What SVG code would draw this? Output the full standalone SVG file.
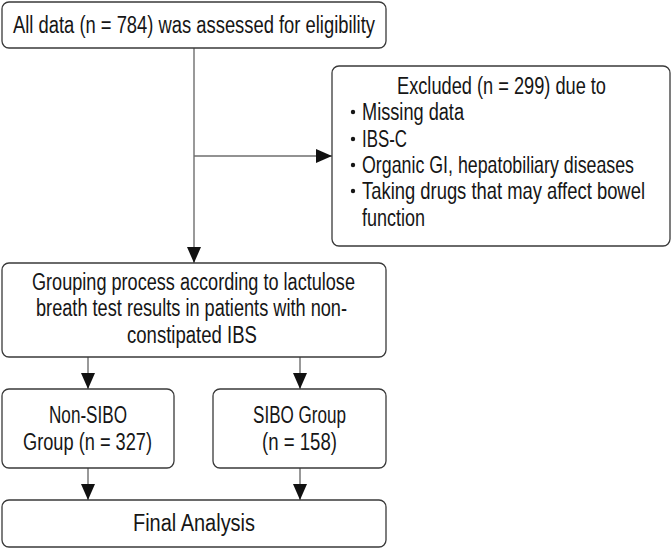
<svg xmlns="http://www.w3.org/2000/svg" width="672" height="549" viewBox="0 0 672 549">
<style>
.box{fill:#fff;stroke:#3a3a3a;stroke-width:1.3}
.t{font-family:"Liberation Sans",Arial,sans-serif;font-size:23px;fill:#161616}
.c{fill:none;stroke:#6e6e6e;stroke-width:1.4}
</style>
<defs>
<marker id="ah" markerUnits="userSpaceOnUse" markerWidth="16" markerHeight="14" refX="16" refY="7" orient="auto">
<path d="M0,0 L16,7 L0,14 Z" fill="#111"/>
</marker>
</defs>
<rect width="672" height="549" fill="#fff"/>
<g id="connectors">
<line class="c" x1="194" y1="48" x2="194" y2="263" marker-end="url(#ah)"/>
<line class="c" x1="194" y1="156" x2="332" y2="156" marker-end="url(#ah)"/>
<line class="c" x1="88" y1="357" x2="88" y2="389" marker-end="url(#ah)"/>
<line class="c" x1="300" y1="357" x2="300" y2="389" marker-end="url(#ah)"/>
<line class="c" x1="88" y1="468" x2="88" y2="500" marker-end="url(#ah)"/>
<line class="c" x1="300" y1="468" x2="300" y2="500" marker-end="url(#ah)"/>
</g>
<g id="all-data">
<rect class="box" x="2" y="2" width="384" height="46" rx="7"/>
<text class="t" x="13" y="33" textLength="362" lengthAdjust="spacingAndGlyphs">All data (n = 784) was assessed for eligibility</text>
</g>
<g id="excluded">
<rect class="box" x="332" y="66" width="338" height="180" rx="7"/>
<text class="t" x="397" y="94" textLength="209" lengthAdjust="spacingAndGlyphs">Excluded (n = 299) due to</text>
<g fill="#161616">
<circle cx="353" cy="112" r="2.2"/>
<circle cx="353" cy="139" r="2.2"/>
<circle cx="353" cy="165" r="2.2"/>
<circle cx="353" cy="191" r="2.2"/>
</g>
<text class="t" x="362" y="120" textLength="102" lengthAdjust="spacingAndGlyphs">Missing data</text>
<text class="t" x="362" y="147" textLength="45" lengthAdjust="spacingAndGlyphs">IBS-C</text>
<text class="t" transform="translate(362,173) scale(0.75,1)" x="0" y="0" textLength="362.7" lengthAdjust="spacingAndGlyphs">Organic GI, hepatobiliary diseases</text>
<text class="t" transform="translate(362,199) scale(0.75,1)" x="0" y="0" textLength="377.3" lengthAdjust="spacingAndGlyphs">Taking drugs that may affect bowel</text>
<text class="t" x="362" y="226" textLength="63" lengthAdjust="spacingAndGlyphs">function</text>
</g>
<g id="grouping">
<rect class="box" x="2" y="263" width="384" height="94" rx="7"/>
<text class="t" x="32" y="290" textLength="323" lengthAdjust="spacingAndGlyphs">Grouping process according to lactulose</text>
<text class="t" x="36" y="316" textLength="311" lengthAdjust="spacingAndGlyphs">breath test results in patients with non-</text>
<text class="t" x="127" y="343" textLength="130" lengthAdjust="spacingAndGlyphs">constipated IBS</text>
</g>
<g id="non-sibo">
<rect class="box" x="2" y="389" width="172" height="79" rx="7"/>
<text class="t" x="49" y="423" textLength="78" lengthAdjust="spacingAndGlyphs">Non-SIBO</text>
<text class="t" x="23" y="450" textLength="129" lengthAdjust="spacingAndGlyphs">Group (n = 327)</text>
</g>
<g id="sibo">
<rect class="box" x="213" y="389" width="173" height="79" rx="7"/>
<text class="t" x="253" y="423" textLength="93" lengthAdjust="spacingAndGlyphs">SIBO Group</text>
<text class="t" x="262" y="450" textLength="75" lengthAdjust="spacingAndGlyphs">(n = 158)</text>
</g>
<g id="final">
<rect class="box" x="2" y="500" width="384" height="47" rx="7"/>
<text class="t" x="133" y="531" textLength="122" lengthAdjust="spacingAndGlyphs">Final Analysis</text>
</g>
</svg>
